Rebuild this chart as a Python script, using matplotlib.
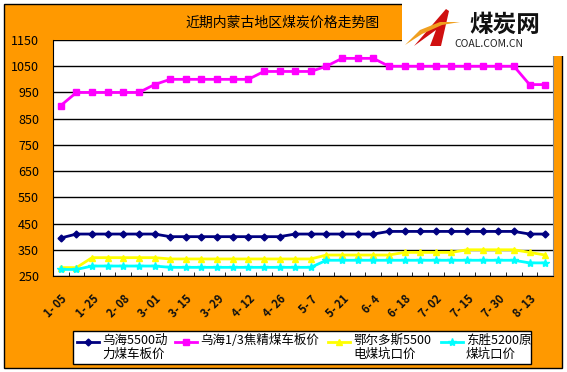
import matplotlib
matplotlib.use('Agg')
import matplotlib.pyplot as plt
import matplotlib.transforms as mtransforms
from matplotlib.patches import Rectangle, Polygon
from matplotlib.lines import Line2D

plt.rcParams['font.family'] = ['Noto Sans CJK SC', 'DejaVu Sans']

# ---------- data ----------
dates = ['1- 05', '1- 25', '2- 08', '3- 01', '3- 15', '3- 29', '4- 12', '4- 26',
         '5- 7', '5- 21', '6- 4', '6- 18', '7- 02', '7- 15', '7- 30', '8- 13']
wuhai_5500 = [395, 410, 410, 410, 410, 410, 410, 400, 400, 400, 400, 400, 400, 400, 400,
              410, 410, 410, 410, 410, 410, 420, 420, 420, 420, 420, 420, 420, 420, 420, 410, 410]
wuhai_coke = [900, 950, 950, 950, 950, 950, 980, 1000, 1000, 1000, 1000, 1000, 1000,
              1030, 1030, 1030, 1030, 1050, 1080, 1080, 1080,
              1050, 1050, 1050, 1050, 1050, 1050, 1050, 1050, 1050, 980, 980]
ordos_5500 = [282, 282, 320, 320, 320, 320, 320, 315, 315, 315, 315, 315, 315, 315, 315, 315, 315,
              330, 330, 330, 330, 330, 340, 340, 340, 340, 350, 350, 350, 350, 340, 330]
dongsheng_5200 = [275, 275, 288, 288, 288, 288, 288, 283, 283, 283, 283, 283, 283, 283, 283, 283, 283,
                  310, 310, 310, 310, 310, 310, 310, 310, 310, 310, 310, 310, 310, 300, 300]
names = ['乌海5500动\n力煤车板价', '乌海1/3焦精煤车板价', '鄂尔多斯5500\n电煤坑口价', '东胜5200原\n煤坑口价']
colors = ['#000080', '#FF00FF', '#FFFF00', '#00FFFF']
markers = ['D', 's', '^', '*']
msizes = [3.5, 4.5, 5, 6]

W, H = 567, 372


def fx(x):
    return x / W


def fy(y):
    return 1 - y / H


fig = plt.figure(figsize=(W / 100, H / 100), dpi=100, facecolor='white')

# chart area background
fig.patches.append(Rectangle((fx(4), fy(368)), fx(558), 364 / H, transform=fig.transFigure,
                             facecolor='#FF9900', edgecolor='black', lw=1, zorder=-1))

ax = fig.add_axes([fx(53), fy(276), fx(500), 236 / H])
ax.set_facecolor('white')
x = list(range(len(wuhai_5500)))
series = [wuhai_5500, wuhai_coke, ordos_5500, dongsheng_5200]
for vals, c, m, ms in zip(series, colors, markers, msizes):
    ax.plot(x, vals, color=c, lw=2, marker=m, markersize=ms, markeredgecolor=c,
            markerfacecolor=c, zorder=3)

ax.set_xlim(-0.5, len(x) - 0.5)
ax.set_ylim(250, 1150)
ax.set_yticks(range(250, 1151, 100))
ax.yaxis.grid(True, color='black', lw=1)
ax.set_axisbelow(True)
ax.tick_params(axis='y', length=0, labelsize=9, pad=10)
ax.set_xticks(range(0, len(x), 2))
ax.set_xticklabels(dates, rotation=45, ha='right', va='top', rotation_mode='anchor',
                   fontsize=8, fontweight='bold', color='#101010')
shift = mtransforms.ScaledTranslation(-0.08, 0, fig.dpi_scale_trans)
for lbl in ax.get_xticklabels():
    lbl.set_transform(lbl.get_transform() + shift)
ax.set_xticks([i + 0.5 for i in range(len(x) - 1)], minor=True)
ax.tick_params(axis='x', which='major', length=0, pad=12)
ax.tick_params(axis='x', which='minor', direction='in', length=3, color='black')
ax.spines['top'].set_visible(False)
ax.spines['left'].set_color('black')
ax.spines['bottom'].set_color('black')
ax.spines['right'].set_color('#888888')

# title
fig.text(fx(283), fy(23), '近期内蒙古地区煤炭价格走势图', ha='center', va='center', fontsize=10)

# logo block
fig.patches.append(Rectangle((fx(402), fy(56)), fx(165), 56 / H, transform=fig.transFigure,
                             facecolor='white', edgecolor='none', zorder=2))
fig.patches.append(Polygon([(fx(414), fy(46)), (fx(446), fy(9)), (fx(449), fy(11)),
                            (fx(441), fy(46)), (fx(430), fy(46)), (fx(436), fy(30))],
                           closed=True, transform=fig.transFigure, facecolor='#D01010',
                           edgecolor='none', zorder=3))
fig.patches.append(Polygon([(fx(405), fy(45)), (fx(420), fy(30)), (fx(440), fy(22)),
                            (fx(460), fy(22)), (fx(442), fy(25)), (fx(422), fy(34))],
                           closed=True, transform=fig.transFigure, facecolor='#F0A020',
                           edgecolor='none', zorder=4))
fig.text(fx(505), fy(25), '煤炭网', ha='center', va='center', fontsize=17,
         fontweight='heavy', color='#111111', zorder=5)
fig.text(fx(489), fy(44), 'COAL.COM.CN', ha='center', va='center', fontsize=7.5,
         color='#222222', zorder=5)

# legend box
fig.patches.append(Rectangle((fx(73), fy(364)), fx(458), 33 / H, transform=fig.transFigure,
                             facecolor='white', edgecolor='black', lw=1, zorder=2))
handle_x = [77, 175, 328, 441]
for hx, name, c, m, ms in zip(handle_x, names, colors, markers, msizes):
    fig.add_artist(Line2D([fx(hx), fx(hx + 11), fx(hx + 22)], [fy(342)] * 3,
                          transform=fig.transFigure, color=c, lw=2, marker=m,
                          markersize=ms, markevery=[1], zorder=3))
    fig.text(fx(hx + 25), fy(334), name, ha='left', va='top', fontsize=9,
             linespacing=1.1, zorder=4)

fig.savefig('out.png', dpi=100, facecolor='white')
